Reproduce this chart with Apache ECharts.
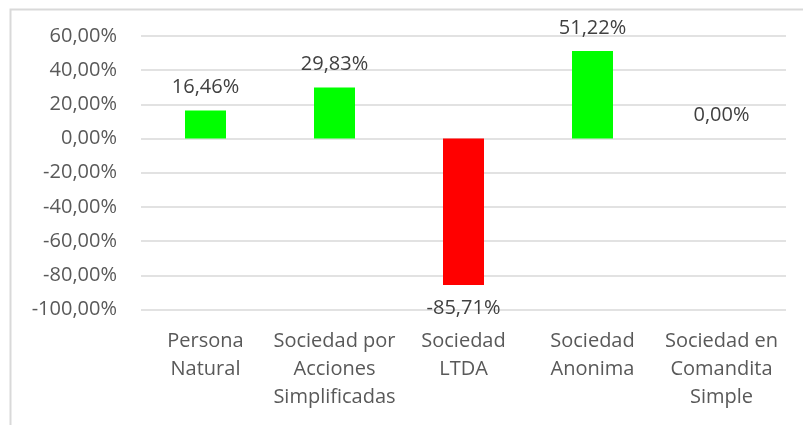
<!DOCTYPE html>
<html>
<head>
<meta charset="utf-8">
<script src="https://cdn.jsdelivr.net/npm/echarts@6/dist/echarts.min.js"></script>
<style>
html,body{margin:0;padding:0;background:#fff;}
#chart{width:803px;height:425px;}
</style>
</head>
<body>
<div id="chart"></div>
<script>
const categories = ["Persona\nNatural", "Sociedad por\nAcciones\nSimplificadas", "Sociedad\nLTDA", "Sociedad\nAnonima", "Sociedad en\nComandita\nSimple"];
const values = [16.46, 29.83, -85.71, 51.22, 0.00];
const barColors = ["#00FF00", "#00FF00", "#FF0000", "#00FF00", "#00FF00"];
const yMin = -100, yMax = 60, yStep = 20;

function pct(v){ return v.toFixed(2).replace('.', ',') + '%'; }

const FONT = '"Open Sans", sans-serif';
const chart = echarts.init(document.getElementById('chart'), null, {renderer:'canvas'});
chart.setOption({
  animation: false,
  backgroundColor: '#ffffff',
  graphic: [{
    type: 'rect', left: 8, top: 7, silent: true,
    shape: {width: 1000, height: 600},
    style: {fill: 'none', stroke: '#d9d9d9', lineWidth: 2}
  }],
  grid: {left: 141, right: 17, top: 36, bottom: 115.5, containLabel: false},
  xAxis: {
    type: 'category',
    data: categories,
    axisLine: {show: false, onZero: false},
    axisTick: {show: false},
    axisLabel: {
      interval: 0, margin: 18, color: '#595959',
      fontFamily: FONT, fontSize: 20, lineHeight: 28
    }
  },
  yAxis: {
    type: 'value', min: yMin, max: yMax, interval: yStep,
    axisLine: {show: false}, axisTick: {show: false},
    splitLine: {lineStyle: {color: '#d9d9d9', width: 1.5}},
    axisLabel: {
      margin: 24, color: '#595959', fontFamily: FONT, fontSize: 20,
      formatter: v => pct(v)
    }
  },
  series: [{
    type: 'bar',
    barWidth: 41,
    data: values.map((v, i) => ({
      value: v,
      itemStyle: {color: barColors[i]},
      label: {position: v < 0 ? 'bottom' : 'top'}
    })),
    label: {
      show: true, distance: 13, color: '#404040',
      fontFamily: FONT, fontSize: 20,
      formatter: p => pct(p.value)
    }
  }]
});
</script>
</body>
</html>
